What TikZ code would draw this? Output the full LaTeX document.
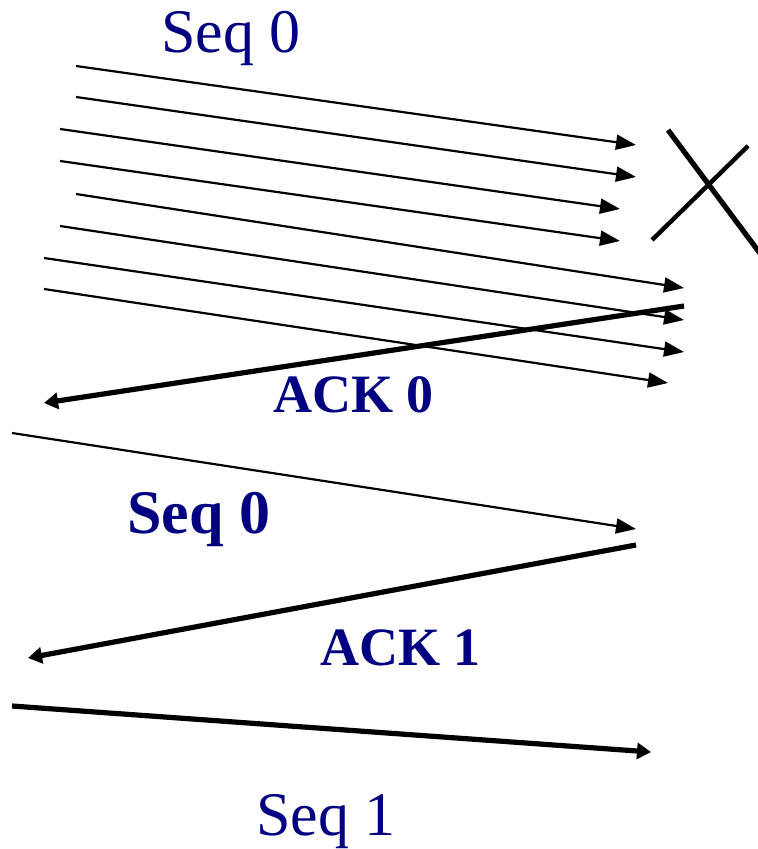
\documentclass[tikz,border=0pt]{standalone}
\usepackage{fontspec}
\setmainfont{Liberation Serif}
\usepackage{xcolor}
\usetikzlibrary{arrows.meta}
\definecolor{navy}{RGB}{0,0,128}

\tikzset{
  seqline/.style={line width=1.1pt,-{Triangle[length=10pt,width=7.5pt]}},
  ackline/.style={line width=2.6pt,-{Triangle[length=7pt,width=8pt]}},
  lbl/.style={text=navy,anchor=base west,inner sep=0pt},
  seqlbl/.style={lbl,font=\fontsize{31}{36}\selectfont},
  acklbl/.style={lbl,font=\fontsize{27}{32}\selectfont\bfseries},
}

\begin{document}
\begin{tikzpicture}[x=0.5pt,y=-0.5pt]
  \useasboundingbox (0,0) rectangle (758,849);
  % first burst of Seq 0 frames
  \foreach \n/\xa/\ya/\xb/\yb in {1/76/66/636/145, 2/76/97/636/177,
      3/60/129/620/209, 4/60/161/620/241, 5/76/194/684/288,
      6/60/226/684/320, 7/44/258/684/352, 8/44/289/668/383} {
    \coordinate (s\n) at (\xa,\ya);
    \coordinate (e\n) at (\xb,\yb);
    \draw[seqline] (s\n) -- (e\n);
  }
  \node[seqlbl] (seqa) at (161,53) {Seq 0};
  % lost frame
  \coordinate (xa) at (668,130);
  \coordinate (xb) at (762,256);
  \coordinate (xc) at (652,240);
  \coordinate (xd) at (748,146);
  \draw[line width=2.6pt] (xa) -- (xb);
  \draw[line width=2.2pt] (xc) -- (xd);
  % ACK 0
  \coordinate (a0s) at (684,306);
  \coordinate (a0e) at (44,403);
  \draw[ackline] (a0s) -- (a0e);
  \node[acklbl] (ack0) at (273,412) {ACK 0};
  % retransmitted Seq 0
  \coordinate (r0s) at (12,433);
  \coordinate (r0e) at (636,529);
  \draw[seqline] (r0s) -- (r0e);
  \node[seqlbl,font=\fontsize{31}{36}\selectfont\bfseries] (seqb) at (127,533) {Seq 0};
  % ACK 1
  \coordinate (a1s) at (636,545);
  \coordinate (a1e) at (28,658);
  \draw[ackline] (a1s) -- (a1e);
  \node[acklbl] (ack1) at (320,665) {ACK 1};
  % Seq 1
  \coordinate (s1s) at (12,706);
  \coordinate (s1e) at (651,752);
  \draw[ackline] (s1s) -- (s1e);
  \node[seqlbl] (seqc) at (256,835) {Seq 1};
\end{tikzpicture}
\end{document}
